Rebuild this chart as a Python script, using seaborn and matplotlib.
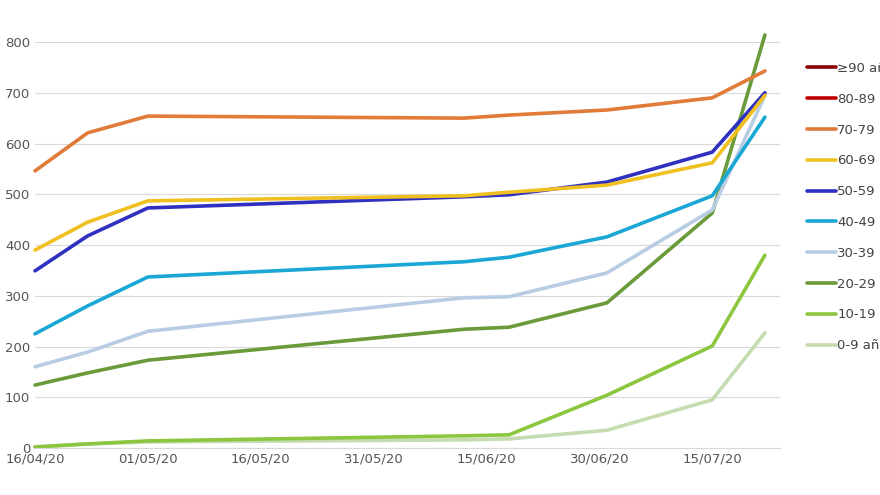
import matplotlib
matplotlib.use("Agg")
import matplotlib.pyplot as plt
import seaborn as sns
import pandas as pd
import matplotlib.dates as mdates

dates = ["2020-04-16","2020-04-23","2020-05-01","2020-06-12","2020-06-18","2020-07-01","2020-07-15","2020-07-22"]
groups = ["≥90 años","80-89","70-79","60-69","50-59","40-49","30-39","20-29","10-19","0-9 años"]
colors = ["#8b0000","#c00000","#e07b39","#f0c020","#3030c0","#1aa7d6","#b8cce4","#6a9a3a","#8cc63f","#c4dcb0"]
v70 = [546,621,654,650,656,666,690,743]
v60 = [390,445,487,497,504,518,562,695]
v50 = [349,418,473,495,499,524,583,700]
v40 = [225,280,337,367,376,416,497,652]
v30 = [160,189,230,296,298,345,469,695]
v20 = [124,148,173,234,238,286,463,814]
v10 = [2,8,14,24,26,104,201,380]
v0 = [2,8,12,16,18,35,95,227]
series = {"70-79": v70, "60-69": v60, "50-59": v50, "40-49": v40,
          "30-39": v30, "20-29": v20, "10-19": v10, "0-9 años": v0}

rows = []
for g, vals in series.items():
    for d, v in zip(dates, vals):
        rows.append({"fecha": pd.Timestamp(d), "grupo": g, "casos": v})
df = pd.DataFrame(rows)

sns.set_style("white")
fig = plt.figure(figsize=(8.8, 4.95), dpi=100)
ax = fig.add_axes([35/880, 47/495, 745/880, 406/495])
pal = dict(zip(groups, colors))
order = [g for g in groups if g in series][::-1]
sns.lineplot(data=df, x="fecha", y="casos", hue="grupo", hue_order=order, palette=pal,
             linewidth=2.6, ax=ax, legend=False)
for ln in ax.lines:
    ln.set_clip_on(False)
handles = [plt.Line2D([], [], color=c, lw=2.6) for c in colors]
ax.legend(handles, groups, loc="upper left", bbox_to_anchor=(1.02, 0.98), frameon=False,
          handlelength=2.2, handletextpad=0.1, labelspacing=1.35, fontsize=9.5, labelcolor="#444")
ax.set_ylim(0, 800)
ax.set_yticks(range(0, 801, 100))
ax.set_xlim(pd.Timestamp("2020-04-16"), pd.Timestamp("2020-07-24"))
ticks = pd.to_datetime(["2020-04-16","2020-05-01","2020-05-16","2020-05-31","2020-06-15","2020-06-30","2020-07-15"])
ax.set_xticks(ticks)
ax.xaxis.set_major_formatter(mdates.DateFormatter("%d/%m/%y"))
ax.grid(axis="y", color="#d9d9d9", lw=0.8)
for s in ax.spines.values():
    s.set_visible(False)
ax.spines["bottom"].set_visible(True)
ax.spines["bottom"].set_color("#d9d9d9")
ax.tick_params(labelsize=9.5, colors="#555", length=0)
ax.set_xlabel(""); ax.set_ylabel("")
fig.savefig("out.png", dpi=100)
